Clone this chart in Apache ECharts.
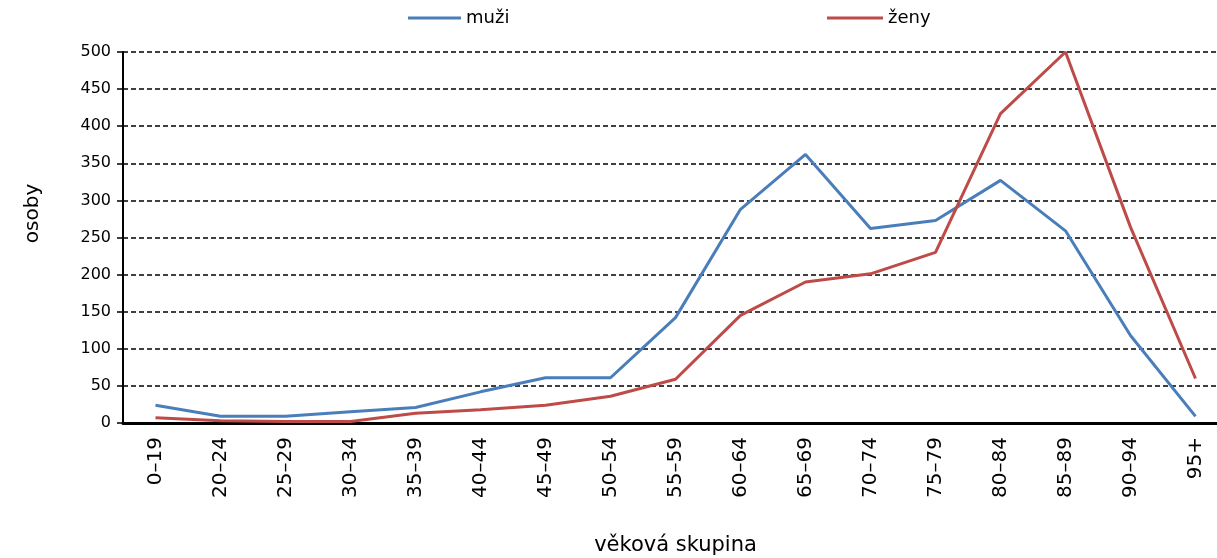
<!DOCTYPE html>
<html>
<head>
<meta charset="utf-8">
<script src="https://cdn.jsdelivr.net/npm/echarts@6/dist/echarts.min.js"></script>
<style>
html, body { margin: 0; padding: 0; background: #fff; }
#chart { width: 1217px; height: 558px; }
</style>
</head>
<body>
<div id="chart"></div>
<script>
var FONT = "DejaVu Sans";
var categories = ["0–19", "20–24", "25–29", "30–34", "35–39", "40–44", "45–49", "50–54", "55–59",
	"60–64", "65–69", "70–74", "75–79", "80–84", "85–89", "90–94", "95+"];
var muzi = [24, 9, 9, 15, 21, 42, 61, 61, 142, 288, 362, 262, 273, 327, 259, 118, 9];
var zeny = [7, 3, 2, 2, 13, 18, 24, 36, 59, 145, 190, 201, 230, 417, 500, 264, 60];

var chart = echarts.init(document.getElementById("chart"));
var legendText = { fontFamily: FONT, fontSize: 18, color: "#000" };
var option = {
	animation: false,
	legend: [
		{
			left: 403,
			top: 4,
			icon: "rect",
			itemWidth: 53,
			itemHeight: 3,
			textStyle: legendText,
			data: ["muži"]
		},
		{
			left: 822,
			top: 4,
			icon: "rect",
			itemWidth: 56,
			itemHeight: 3,
			textStyle: legendText,
			data: ["ženy"]
		}
	],
	grid: {
		left: 123,
		right: -11,
		top: 52,
		bottom: 135,
		outerBoundsMode: "none"
	},
	xAxis: {
		type: "category",
		data: categories,
		name: "věková skupina",
		nameLocation: "middle",
		nameGap: 112,
		nameTextStyle: { fontFamily: FONT, fontSize: 21, color: "#000" },
		axisLine: { lineStyle: { color: "#000", width: 3 } },
		axisTick: { length: 6, lineStyle: { color: "#000", width: 1.5 } },
		axisLabel: {
			interval: 0,
			rotate: 90,
			margin: 14,
			fontFamily: FONT,
			fontSize: 20,
			color: "#000"
		}
	},
	yAxis: {
		type: "value",
		min: 0,
		max: 500,
		interval: 50,
		name: "osoby",
		nameLocation: "middle",
		nameGap: 80,
		nameTextStyle: { fontFamily: FONT, fontSize: 20, color: "#000", padding: [0, 0, 0, 48] },
		axisLine: { show: true, lineStyle: { color: "#000", width: 2 } },
		axisTick: { show: true, length: 6, lineStyle: { color: "#000", width: 1.5 } },
		axisLabel: { margin: 12, fontFamily: FONT, fontSize: 16, color: "#000" },
		splitLine: { lineStyle: { color: "#000", width: 1.5, type: [5, 3] } }
	},
	series: [
		{
			name: "muži",
			type: "line",
			data: muzi,
			symbol: "none",
			itemStyle: { color: "#4a7ebb" },
			lineStyle: { color: "#4a7ebb", width: 3 }
		},
		{
			name: "ženy",
			type: "line",
			data: zeny,
			symbol: "none",
			itemStyle: { color: "#be4b48" },
			lineStyle: { color: "#be4b48", width: 3 }
		}
	]
};
chart.setOption(option);
</script>
</body>
</html>
